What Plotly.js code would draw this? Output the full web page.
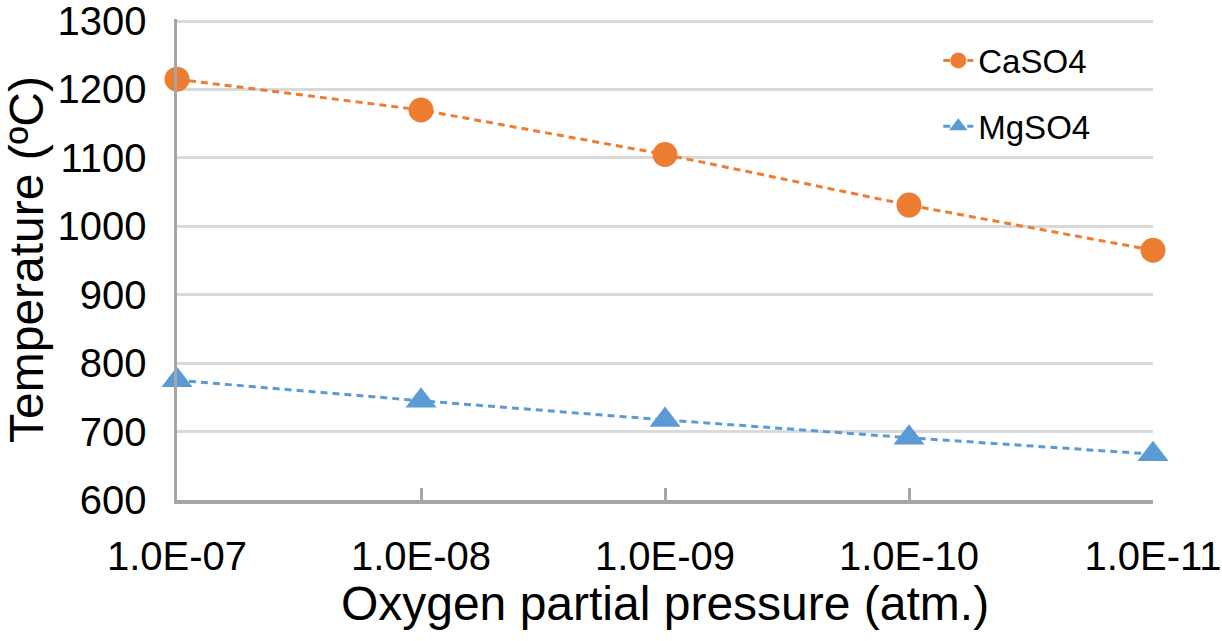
<!DOCTYPE html>
<html>
<head>
<meta charset="utf-8">
<script src="https://cdn.plot.ly/plotly-3.0.1.min.js"></script>
<style>html,body{margin:0;padding:0;background:#fff;}#chart{width:1222px;height:641px;}</style>
</head>
<body>
<div id="chart"></div>
<script>
const pressureLabels = ["1.0E-07", "1.0E-08", "1.0E-09", "1.0E-10", "1.0E-11"];
const caso4Temps = [1215, 1170, 1105, 1031, 965];
const mgso4Temps = [775, 745, 717, 691, 667];
const seriesNames = ["CaSO4", "MgSO4"];
const yTickVals = [600, 700, 800, 900, 1000, 1100, 1200, 1300];

const FONT = "Liberation Sans, Arial, Helvetica, sans-serif";

const traces = [
  {
    x: pressureLabels, y: caso4Temps, name: seriesNames[0], type: "scatter", mode: "lines+markers",
    legendgroup: "a", cliponaxis: false,
    line: {color: "#ED7D31", width: 3, dash: "7px,5px"},
    marker: {color: "#ED7D31", size: 25, symbol: "circle"}
  },
  {
    x: pressureLabels, y: mgso4Temps, name: seriesNames[1], type: "scatter", mode: "lines+markers",
    legendgroup: "b", cliponaxis: false,
    line: {color: "#5B9BD5", width: 3, dash: "7px,5px"},
    marker: {color: "#5B9BD5", size: 27, symbol: "triangle-up"}
  }
];

const layout = {
  width: 1222, height: 641,
  margin: {l: 177, r: 69, t: 18.5, b: 140.5},
  paper_bgcolor: "#ffffff", plot_bgcolor: "#ffffff",
  font: {family: FONT, color: "#000000", size: 40},
  showlegend: true,
  legend: {
    x: 0.78, xanchor: "left", y: 0.972, yanchor: "top",
    bgcolor: "rgba(0,0,0,0)", font: {size: 33, family: FONT},
    traceorder: "grouped", tracegroupgap: 20, itemsizing: "trace"
  },
  xaxis: {
    type: "category", range: [0, 4],
    showgrid: false, zeroline: false,
    showline: true, linecolor: "#A6A6A6", linewidth: 3.5,
    ticks: "inside", ticklen: 12, tickwidth: 3, tickcolor: "#A6A6A6",
    tickfont: {size: 40, family: FONT},
    ticklabelstandoff: 18, ticklabeloverflow: "allow",
    title: {text: "Oxygen partial pressure (atm.)", font: {size: 48, family: FONT}, standoff: 8}
  },
  yaxis: {
    range: [600, 1303], tickmode: "array", tickvals: yTickVals,
    showgrid: true, gridcolor: "#D9D9D9", gridwidth: 3,
    zeroline: false, showline: true, linecolor: "#A6A6A6", linewidth: 3.5, ticks: "",
    tickfont: {size: 40, family: FONT},
    ticklabelstandoff: 19, ticklabeloverflow: "allow",
    title: {text: "Temperature (ºC)", font: {size: 48, family: FONT}, standoff: 6}
  }
};

Plotly.newPlot("chart", traces, layout, {displayModeBar: false, staticPlot: true});
</script>
</body>
</html>
